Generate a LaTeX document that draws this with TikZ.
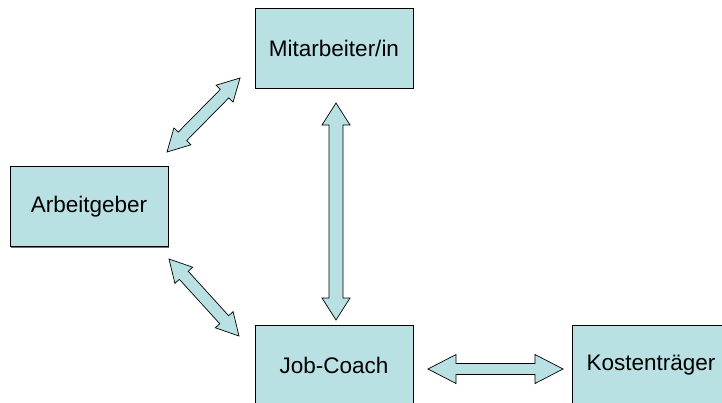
\documentclass[tikz,border=0pt]{standalone}
\usepackage{fontspec}
\setmainfont{Liberation Sans}
\usetikzlibrary{calc,shadows}
\definecolor{boxfill}{HTML}{B9E0E3}
\newcommand\blockarrow[5]{% start, end, head length, head half width, shaft half width
  \filldraw[arrowbody]
    (#1)
    -- ($($(#1)!#3!(#2)$)!#4!90:(#2)$)
    -- ($($(#1)!#3!(#2)$)!#5!90:(#2)$)
    -- ($($(#2)!#3!(#1)$)!#5!-90:(#1)$)
    -- ($($(#2)!#3!(#1)$)!#4!-90:(#1)$)
    -- (#2)
    -- ($($(#2)!#3!(#1)$)!-#4!-90:(#1)$)
    -- ($($(#2)!#3!(#1)$)!-#5!-90:(#1)$)
    -- ($($(#1)!#3!(#2)$)!-#5!90:(#2)$)
    -- ($($(#1)!#3!(#2)$)!-#4!90:(#2)$)
    -- cycle;}
\begin{document}
\begin{tikzpicture}[x=1pt,y=-1pt,
  box/.style={draw=black, line width=0.8pt, fill=boxfill, minimum width=158pt, minimum height=80pt,
    inner sep=0pt, font=\fontsize{22.5}{27}\selectfont,
    drop shadow={shadow xshift=1.2pt, shadow yshift=-1.2pt, fill=black!55, opacity=1}},
  arrowbody/.style={draw=black, line width=0.7pt, fill=boxfill, line join=miter}]
\useasboundingbox (0,0) rectangle (722,402);
\node[box] (mit) at (334,48) {Mitarbeiter/in};
\node[box] (arb) at (89,206.5) {Arbeitgeber};
\node[box] (job) at (334,365) {Job-Coach};
\node[box] (kos) at (651,365) {Kostenträger};
\coordinate (a1s) at (240,78);
\coordinate (a1e) at (167,152);
\coordinate (a2s) at (336,103);
\coordinate (a2e) at (336,320);
\coordinate (a3s) at (169,259);
\coordinate (a3e) at (239,336);
\coordinate (a4s) at (428,369);
\coordinate (a4e) at (563,369);
\blockarrow{a1s}{a1e}{22pt}{12pt}{6pt}
\blockarrow{a2s}{a2e}{22pt}{14pt}{7pt}
\blockarrow{a3s}{a3e}{22pt}{12pt}{6pt}
\blockarrow{a4s}{a4e}{28pt}{14.5pt}{5.5pt}
\end{tikzpicture}
\end{document}
